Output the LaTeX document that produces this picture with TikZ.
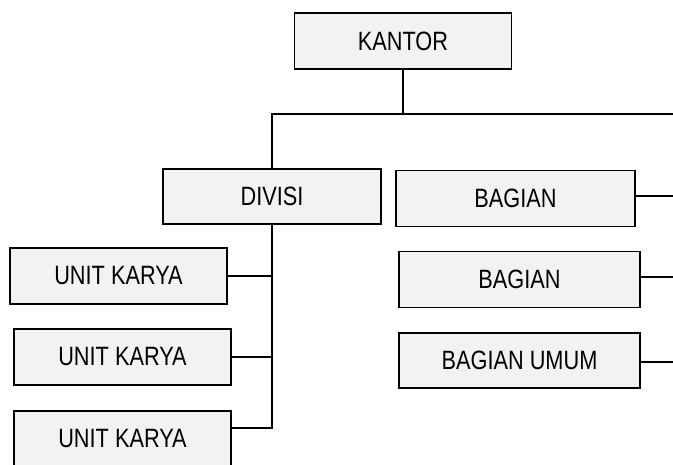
\documentclass[tikz,border=0pt]{standalone}
\usepackage{fontspec}
\setmainfont{Liberation Sans}[FakeStretch=0.82]
\definecolor{abu}{HTML}{F2F2F2}
\tikzset{
  kotak/.style={rectangle, draw, line width=1.7pt, fill=abu, inner sep=0pt,
    minimum width=217pt, minimum height=56pt, font=\fontsize{26.5}{30}\selectfont},
  garis/.style={line width=1.9pt}
}
\begin{document}
\begin{tikzpicture}[x=1pt, y=-1pt]
    \clip (0, 0) rectangle (673, 464);
    \useasboundingbox (0, 0) rectangle (673, 464);

    \node[kotak] (kantor) at (403, 41) {KANTOR};
    \node[kotak, minimum width=218pt, minimum height=55pt] (divisi) at (272, 196.5) {DIVISI};
    \node[kotak, minimum width=239pt] (bagian1) at (515.5, 198.5) {BAGIAN};
    \node[kotak, minimum width=241pt] (bagian2) at (519.5, 279.5) {BAGIAN};
    \node[kotak, minimum width=241pt, minimum height=55pt] (umum) at (519.5, 360.5) {BAGIAN UMUM};
    \node[kotak] (unit1) at (118.5, 276) {UNIT KARYA};
    \node[kotak] (unit2) at (122.5, 357) {UNIT KARYA};
    \node[kotak] (unit3) at (122.5, 439) {UNIT KARYA};

    % ujung garis di tepi kanan
    \coordinate (atas) at (673, 114);
    \coordinate (kanan1) at (673, 196);
    \coordinate (kanan2) at (673, 277);
    \coordinate (kanan3) at (673, 362);

    \draw[garis] (kantor) -- (kantor |- atas);
    \draw[garis] (divisi) |- (atas);
    \draw[garis] (divisi.south) |- ([yshift=11pt]unit3.east);
    \draw[garis] (unit1) -- (unit1 -| divisi);
    \draw[garis] (unit2) -- (unit2 -| divisi);
    \draw[garis] (bagian1.east |- kanan1) -- (kanan1);
    \draw[garis] (bagian2.east |- kanan2) -- (kanan2);
    \draw[garis] (umum.east |- kanan3) -- (kanan3);
\end{tikzpicture}
\end{document}
